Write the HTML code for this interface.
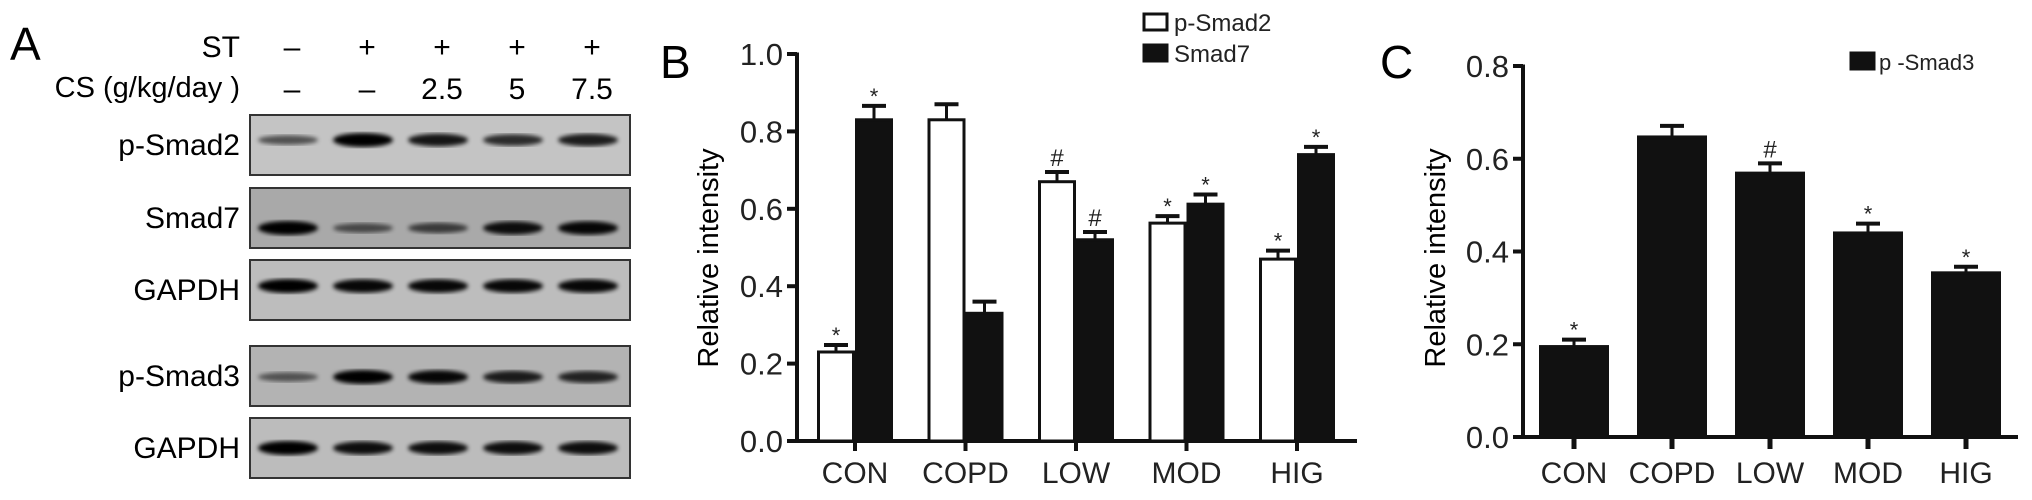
<!DOCTYPE html>
<html><head><meta charset="utf-8">
<style>
html,body{margin:0;padding:0;background:#fff;}
svg{display:block;font-family:"Liberation Sans",Arial,sans-serif;}
</style></head>
<body>
<svg id="fig" width="2032" height="500" viewBox="0 0 2032 500" xmlns="http://www.w3.org/2000/svg">
<defs>
<filter id="blur"><feGaussianBlur stdDeviation="2.2"/></filter>
</defs>
<!-- Panel A -->
<g>
<text x="10" y="60" font-size="46">A</text>
<text x="240" y="57" font-size="30" text-anchor="end">ST</text>
<text x="240" y="97" font-size="29" text-anchor="end">CS (g/kg/day )</text>
<g id="laneHead" font-size="30" text-anchor="middle"></g>
<g id="blots"></g>
</g>
<!-- Panel B -->
<g>
<text x="660" y="78" font-size="46">B</text>
<text transform="translate(718,258) rotate(-90)" font-size="29" text-anchor="middle">Relative intensity</text>
<g id="chartB"></g>
<g>
<rect x="1144" y="14" width="23" height="16" fill="#fff" stroke="#111" stroke-width="3"/>
<text x="1174" y="31" font-size="24" fill="#222">p-Smad2</text>
<rect x="1144" y="45" width="23" height="16" fill="#111" stroke="#111" stroke-width="3"/>
<text x="1174" y="62" font-size="24" fill="#222">Smad7</text>
</g>
</g>
<!-- Panel C -->
<g>
<text x="1380" y="78" font-size="46">C</text>
<text transform="translate(1445,258) rotate(-90)" font-size="29" text-anchor="middle">Relative intensity</text>
<g id="chartC"></g>
<g>
<rect x="1851" y="53" width="23" height="16" fill="#111" stroke="#111" stroke-width="3"/>
<text x="1879" y="70" font-size="22" fill="#222">p -Smad3</text>
</g>
</g>
</svg>
<script>
const NS = "http://www.w3.org/2000/svg";
// ---- Data ----
const laneST = ["\u2013", "+", "+", "+", "+"];
const laneCS = ["\u2013", "\u2013", "2.5", "5", "7.5"];
const blotNames = ["p-Smad2", "Smad7", "GAPDH", "p-Smad3", "GAPDH"];
const bandP2 = [0.45, 1.0, 0.85, 0.7, 0.8];
const bandS7 = [1.0, 0.45, 0.55, 0.9, 0.95];
const bandG1 = [1.0, 0.95, 0.95, 0.95, 0.95];
const bandP3 = [0.4, 1.0, 0.95, 0.8, 0.75];
const bandG2 = [1.0, 0.9, 0.9, 0.9, 0.9];

const catsB = ["CON", "COPD", "LOW", "MOD", "HIG"];
const pSmad2 = [0.23, 0.83, 0.67, 0.563, 0.47];
const pSmad2Err = [0.018, 0.04, 0.025, 0.018, 0.022];
const pSmad2Mark = ["*", "", "#", "*", "*"];
const smad7 = [0.83, 0.33, 0.52, 0.612, 0.74];
const smad7Err = [0.036, 0.03, 0.02, 0.025, 0.02];
const smad7Mark = ["*", "", "#", "*", "*"];
const ticksB = [0.0, 0.2, 0.4, 0.6, 0.8, 1.0];

const catsC = ["CON", "COPD", "LOW", "MOD", "HIG"];
const pSmad3 = [0.195, 0.647, 0.569, 0.44, 0.354];
const pSmad3Err = [0.015, 0.024, 0.021, 0.02, 0.013];
const pSmad3Mark = ["*", "", "#", "*", "*"];
const ticksC = [0.0, 0.2, 0.4, 0.6, 0.8];

function mk(tag, attrs, parent, txt){
  const e = document.createElementNS(NS, tag);
  for (const k in attrs) e.setAttribute(k, attrs[k]);
  if (txt !== undefined) e.textContent = txt;
  parent.appendChild(e);
  return e;
}

// ---- Panel A ----
const laneX = i => 292 + i * 75;
const head = document.getElementById("laneHead");
laneST.forEach((s, i) => {
  const t = mk("text", {x: laneX(i), y: 57}, head, s);
  
  
});
laneCS.forEach((s, i) => {
  const t = mk("text", {x: laneX(i), y: 99}, head, s);
  
  
});
const blotTop = [115, 188, 260, 346, 418];
const blotBg = ["#c4c4c4", "#a9a9a9", "#bdbdbd", "#b3b3b3", "#bcbcbc"];
const bandY = [25, 40, 26, 31, 30];
const bandSets = [bandP2, bandS7, bandG1, bandP3, bandG2];
const blotsG = document.getElementById("blots");
blotNames.forEach((nm, r) => {
  const y0 = blotTop[r];
  const lab = mk("text", {x: 240, y: y0 + 40, "font-size": 30, "text-anchor": "end"}, blotsG, nm);
  
  
  const box = mk("rect", {x: 250, y: y0, width: 380, height: 60, fill: blotBg[r], stroke: "#333", "stroke-width": 2}, blotsG);
  
  
  bandSets[r].forEach((v, i) => {
    const b = mk("ellipse", {cx: laneX(i) - 4, cy: y0 + bandY[r], rx: 30, ry: 3 + 4 * v, fill: "#000", opacity: 0.25 + 0.75 * v, filter: "url(#blur)"}, blotsG);
    
    
  });
});

// ---- Bar chart helper ----
function axis(g, cfg){
  const {x0, y0, yTop, x1, max, ticks, prefix} = cfg;
  const ys = v => y0 - (v / max) * (y0 - yTop);
  const ax = mk("line", {x1: x0, y1: y0 + 1.5, x2: x0, y2: yTop - 1.5, stroke: "#111", "stroke-width": 4}, g);
  
  
  const xa = mk("line", {x1: x0 - 10, y1: y0, x2: x1, y2: y0, stroke: "#111", "stroke-width": 4}, g);
  
  
  ticks.forEach(t => {
    const y = ys(t);
    const tk = mk("line", {x1: x0 - 10, y1: y, x2: x0, y2: y, stroke: "#111", "stroke-width": 4}, g);
    
    
    const tl = mk("text", {x: x0 - 14, y: y + 11, "font-size": 31, "text-anchor": "end", fill: "#222"}, g, t.toFixed(1));
    
    
  });
  return ys;
}
function bar(g, cfg){
  const {x, w, v, err, mark, fill, ys, y0, name} = cfg;
  const top = ys(v);
  const r = mk("rect", {x: x + 1.5, y: top, width: w - 3, height: y0 - top, fill: fill, stroke: "#111", "stroke-width": 3}, g);
  
  
  const cx = x + w / 2, et = ys(v + err);
  const e1 = mk("line", {x1: cx, y1: top, x2: cx, y2: et, stroke: "#111", "stroke-width": 3}, g);
  
  
  const e2 = mk("line", {x1: cx - 12, y1: et, x2: cx + 12, y2: et, stroke: "#111", "stroke-width": 4}, g);
  
  
  if (mark) {
    const m = mk("text", {x: cx, y: et - (mark === "#" ? 6 : 2), "font-size": mark === "#" ? 24 : 22, "text-anchor": "middle", fill: "#222"}, g, mark);
    
    
  }
}

// ---- Panel B ----
const gB = document.getElementById("chartB");
const yB = axis(gB, {x0: 797, y0: 441, yTop: 54, x1: 1357, max: 1.0, ticks: ticksB, prefix: "b"});
const xB = i => 855 + i * 110.5;
catsB.forEach((c, i) => {
  const cx = xB(i);
  bar(gB, {x: cx - 38, w: 38, v: pSmad2[i], err: pSmad2Err[i], mark: pSmad2Mark[i], fill: "#fff", ys: yB, y0: 441, name: "b-bar-p-smad2-" + c.toLowerCase()});
  bar(gB, {x: cx, w: 38, v: smad7[i], err: smad7Err[i], mark: smad7Mark[i], fill: "#111", ys: yB, y0: 441, name: "b-bar-smad7-" + c.toLowerCase()});
  const tk = mk("line", {x1: cx, y1: 441, x2: cx, y2: 451, stroke: "#111", "stroke-width": 4}, gB);
  
  
  const tl = mk("text", {x: cx, y: 483, "font-size": 30, "text-anchor": "middle", fill: "#222"}, gB, c);
  
  
});

// ---- Panel C ----
const gC = document.getElementById("chartC");
const yC = axis(gC, {x0: 1523, y0: 437, yTop: 66, x1: 2018, max: 0.8, ticks: ticksC, prefix: "c"});
const xC = i => 1574 + i * 98;
catsC.forEach((c, i) => {
  const cx = xC(i);
  bar(gC, {x: cx - 35, w: 70, v: pSmad3[i], err: pSmad3Err[i], mark: pSmad3Mark[i], fill: "#111", ys: yC, y0: 437, name: "c-bar-p-smad3-" + c.toLowerCase()});
  const tk = mk("line", {x1: cx, y1: 437, x2: cx, y2: 449, stroke: "#111", "stroke-width": 5}, gC);
  
  
  const tl = mk("text", {x: cx, y: 483, "font-size": 30, "text-anchor": "middle", fill: "#222"}, gC, c);
  
  
});
</script>
</body></html>
